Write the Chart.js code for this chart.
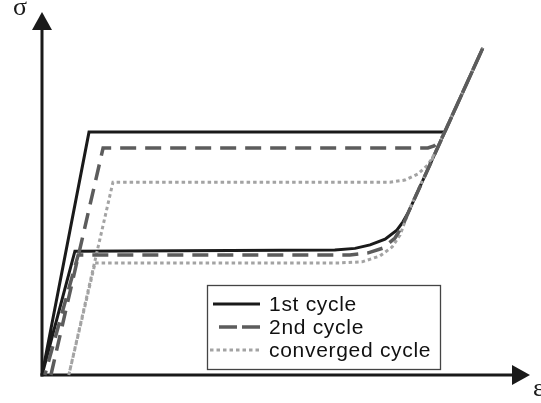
<!DOCTYPE html>
<html>
<head>
<meta charset="utf-8">
<script src="https://cdn.jsdelivr.net/npm/chart.js@4"></script>
<style>
html,body{margin:0;padding:0;background:#fff;}
#wrap{position:relative;width:541px;height:403px;}
canvas{display:block;}
</style>
</head>
<body>
<div id="wrap"><canvas id="c" width="541" height="403"></canvas></div>
<script>
// ---- data (schematic strain / stress, arbitrary units) ----
const seriesLabels = ["1st cycle", "2nd cycle", "converged cycle"];
const axisLabels = ["σ", "ε"];

const cycle1Strain = [0, 1.0, 8.57, 9.38, 7.79, 7.68, 7.55, 7.30, 6.98, 6.66, 6.23, 0.70, 0];
const cycle1Stress = [0, 704, 704, 948, 470, 444, 420, 394, 377, 367, 362, 359, 0];

const cycle2Strain = [0.19, 1.30, 8.21, 8.34, 8.45, 8.52, 9.38, 7.79, 7.68, 7.51, 7.26, 6.94, 6.55, 0.77, 0.06];
const cycle2Stress = [0, 658, 658, 664, 678, 690, 948, 470, 435, 397, 368, 354, 348, 348, 0];

const cycleCStrain = [0.57, 1.51, 7.40, 7.72, 8.00, 8.21, 8.34, 8.45, 9.38, 7.83, 7.72, 7.62, 7.45, 7.19, 6.81, 6.34, 1.13, 0.57];
const cycleCStress = [0, 559, 559, 565, 583, 609, 638, 670, 948, 484, 444, 406, 371, 345, 328, 325, 325, 0];

const xMax = 10, yMax = 1000;

function pts(xs, ys){ return xs.map((x,i)=>({x:x, y:ys[i]})); }

const axesPlugin = {
  id:'axesArrows',
  beforeDatasetsDraw(chart){
    const ctx = chart.ctx, xs = chart.scales.x, ys = chart.scales.y;
    const x0 = xs.getPixelForValue(0), y0 = ys.getPixelForValue(0);
    const xe = xs.getPixelForValue(xMax), ye = ys.getPixelForValue(yMax);
    ctx.save();
    ctx.strokeStyle = '#1a1a1a'; ctx.fillStyle = '#1a1a1a';
    ctx.lineWidth = 3; ctx.lineCap='butt';
    ctx.beginPath(); ctx.moveTo(x0, y0+1.5); ctx.lineTo(x0, ye); ctx.stroke();
    ctx.beginPath(); ctx.moveTo(x0-1.5, y0); ctx.lineTo(xe, y0); ctx.stroke();
    // arrowheads
    ctx.beginPath(); ctx.moveTo(x0, ye-18); ctx.lineTo(x0-10, ye); ctx.lineTo(x0+10, ye); ctx.closePath(); ctx.fill();
    ctx.beginPath(); ctx.moveTo(xe+18, y0); ctx.lineTo(xe, y0-10); ctx.lineTo(xe, y0+10); ctx.closePath(); ctx.fill();
    // axis symbols
    ctx.font = '26px "Liberation Serif", "DejaVu Serif", serif';
    ctx.textBaseline = 'middle'; ctx.textAlign = 'center';
    ctx.fillText(axisLabels[0], x0-22, ye-22);
    ctx.textAlign = 'left';
    ctx.fillText(axisLabels[1], xe+21, y0+14);
    ctx.restore();
  },
  afterDraw(chart){
    const ctx = chart.ctx;
    const bx = 207, by = 285, bw = 233, bh = 84;
    ctx.save();
    ctx.fillStyle = '#fff';
    ctx.fillRect(bx, by, bw, bh);
    ctx.strokeStyle = '#444'; ctx.lineWidth = 1.3;
    ctx.strokeRect(bx+0.5, by+0.5, bw, bh);
    const rows = [304, 327, 350];
    const starts = [213, 219, 210];
    chart.data.datasets.forEach((ds, i)=>{
      ctx.strokeStyle = ds.borderColor;
      ctx.lineWidth = ds.borderWidth;
      ctx.setLineDash(i===1 ? [18,5] : (ds.borderDash || []));
      ctx.beginPath(); ctx.moveTo(starts[i], rows[i]); ctx.lineTo(260, rows[i]); ctx.stroke();
      ctx.setLineDash([]);
      ctx.fillStyle = '#111';
      ctx.font = '21px "Liberation Sans", Arial, sans-serif';
      try { ctx.letterSpacing = '0.7px'; } catch(e) {}
      ctx.textBaseline = 'middle'; ctx.textAlign = 'left';
      ctx.fillText(ds.label, 269, rows[i]+1);
    });
    ctx.restore();
  }
};

new Chart(document.getElementById('c'), {
  type:'scatter',
  data:{
    datasets:[
      {label:seriesLabels[0], data:pts(cycle1Strain, cycle1Stress), showLine:true, borderColor:'#1a1a1a', borderWidth:3, pointRadius:0, order:3, clip:false},
      {label:seriesLabels[1], data:pts(cycle2Strain, cycle2Stress), showLine:true, borderColor:'#5c5c5c', borderWidth:3.5, borderDash:[16,9], pointRadius:0, order:1, clip:false},
      {label:seriesLabels[2], data:pts(cycleCStrain, cycleCStress), showLine:true, borderColor:'#a3a3a3', borderWidth:3, borderDash:[3.5,3], pointRadius:0, order:2, clip:false}
    ]
  },
  options:{
    responsive:false, animation:false,
    layout:{padding:{left:42, right:29, top:30, bottom:28}},
    plugins:{legend:{display:false}, tooltip:{enabled:false}},
    scales:{
      x:{type:'linear', min:0, max:xMax, display:false},
      y:{type:'linear', min:0, max:yMax, display:false}
    }
  },
  plugins:[axesPlugin]
});
</script>
</body>
</html>
